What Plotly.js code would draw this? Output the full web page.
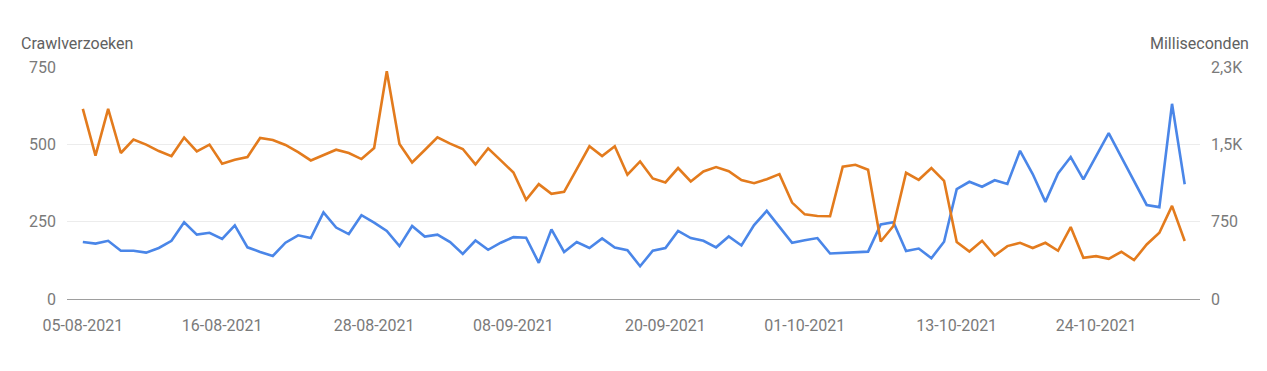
<!DOCTYPE html>
<html>
<head>
<meta charset="utf-8">
<script src="https://cdn.plot.ly/plotly-3.0.1.min.js"></script>
<style>
  html, body { margin: 0; padding: 0; background: #fff; }
  #chart { width: 1267px; height: 371px; }
  .topbar { position: absolute; top: 0; height: 2px; }
</style>
</head>
<body>
<div class="topbar" style="left:0;width:322px;background:#d3d7e8;"></div>
<div class="topbar" style="left:322px;width:323px;background:#eeeeee;"></div>
<div class="topbar" style="left:645px;width:327px;background:#e9e6cf;"></div>
<div id="chart"></div>
<script>
// Crawl requests (left axis) and average response time in ms (right axis), 05-08-2021 .. 31-10-2021
const startDate = '2021-08-05';
const crawlRequests = [
  184, 179, 188, 156, 156, 150, 165, 188, 248, 208,
  214, 194, 238, 167, 152, 139, 182, 206, 197, 280,
  231, 210, 271, 247, 220, 171, 236, 202, 208, 184,
  146, 189, 159, 182, 200, 198, 117, 225, 152, 184,
  165, 196, 166, 158, 106, 156, 165, 220, 197, 188,
  167, 202, 173, 239, 285, 234, 182, 190, 197, 147,
  149, 150, 153, 241, 248, 155, 163, 132, 185, 355,
  379, 363, 384, 372, 479, 404, 314, 406, 459, 387,
  461, 536, 459, 381, 304, 297, 631, 371
];
const responseMs = [
  1844, 1390, 1844, 1416, 1546, 1497, 1435, 1386, 1565, 1432,
  1497, 1312, 1351, 1377, 1562, 1542, 1494, 1425, 1344, 1396,
  1448, 1416, 1357, 1464, 2208, 1503, 1325, 1445, 1568, 1507,
  1455, 1305, 1461, 1344, 1227, 961, 1114, 1020, 1039, 1260,
  1481, 1386, 1481, 1205, 1334, 1169, 1130, 1270, 1140, 1237,
  1279, 1240, 1153, 1123, 1162, 1211, 935, 821, 805, 802,
  1283, 1302, 1253, 558, 708, 1224, 1156, 1270, 1146, 552,
  461, 565, 422, 513, 545, 494, 545, 468, 698, 399,
  416, 390, 458, 377, 529, 643, 903, 562
];
const xTickVals = ['2021-08-05','2021-08-16','2021-08-28','2021-09-08','2021-09-20','2021-10-01','2021-10-13','2021-10-24'];
const xTickText = ['05-08-2021','16-08-2021','28-08-2021','08-09-2021','20-09-2021','01-10-2021','13-10-2021','24-10-2021'];
const leftTicks = [0, 250, 500, 750];
const leftTickText = ['0', '250', '500', '750'];
const rightTicks = [0, 750, 1500, 2250];
const rightTickText = ['0', '750', '1,5K', '2,3K'];

function dayString(base, offset) {
  const d = new Date(base + 'T00:00:00Z');
  d.setUTCDate(d.getUTCDate() + offset);
  return d.toISOString().slice(0, 10);
}
const dates = crawlRequests.map((_, i) => dayString(startDate, i));

const font = { family: 'Roboto, "Noto Sans", Arial, sans-serif', size: 16, color: '#7a7a7a' };

const traces = [
  {
    x: dates, y: crawlRequests, type: 'scatter', mode: 'lines', yaxis: 'y',
    line: { color: '#4a86e8', width: 2.6 }, hoverinfo: 'x+y', name: 'Crawlverzoeken'
  },
  {
    x: dates, y: responseMs, type: 'scatter', mode: 'lines', yaxis: 'y2',
    line: { color: '#e37b1d', width: 2.6 }, hoverinfo: 'x+y', name: 'Milliseconden'
  }
];

const layout = {
  width: 1267, height: 371,
  margin: { l: 67, r: 67, t: 67, b: 72 },
  paper_bgcolor: '#ffffff', plot_bgcolor: '#ffffff',
  showlegend: false,
  font: font,
  xaxis: {
    type: 'date',
    range: ['2021-08-03 18:00', '2021-11-01 05:00'],
    tickvals: xTickVals, ticktext: xTickText,
    showgrid: false, zeroline: false,
    showline: true, linecolor: '#9e9e9e', linewidth: 1,
    ticks: '', ticklabelstandoff: 12,
    tickfont: font, fixedrange: true
  },
  yaxis: {
    range: [0, 750], tickvals: leftTicks, ticktext: leftTickText,
    showgrid: true, gridcolor: '#ececec', gridwidth: 1,
    zeroline: false, showline: false, ticks: '',
    ticklabelstandoff: 10, tickfont: font, fixedrange: true
  },
  yaxis2: {
    range: [0, 2250], tickvals: rightTicks, ticktext: rightTickText,
    overlaying: 'y', side: 'right',
    showgrid: false, zeroline: false, showline: false, ticks: '',
    ticklabelstandoff: 10, tickfont: font, fixedrange: true
  },
  annotations: [
    {
      text: 'Crawlverzoeken', xref: 'paper', yref: 'paper',
      x: -48 / 1133, y: 1, xanchor: 'left', yanchor: 'bottom', yshift: 12,
      showarrow: false, font: { family: font.family, size: 16, color: '#616161' }
    },
    {
      text: 'Milliseconden', xref: 'paper', yref: 'paper',
      x: 1 + 51 / 1133, y: 1, xanchor: 'right', yanchor: 'bottom', yshift: 12,
      showarrow: false, font: { family: font.family, size: 16, color: '#616161' }
    }
  ]
};

Plotly.newPlot('chart', traces, layout, { displayModeBar: false, staticPlot: true });
</script>
</body>
</html>
